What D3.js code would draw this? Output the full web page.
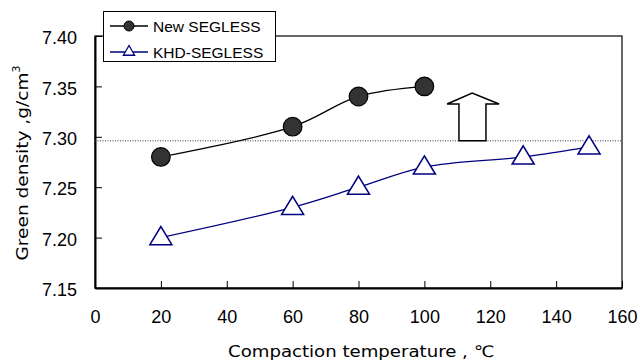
<!DOCTYPE html>
<html><head><meta charset="utf-8">
<script src="https://cdn.jsdelivr.net/npm/d3@7"></script>
<style>body{margin:0;background:#fff}svg{display:block}text{font-family:"Liberation Sans",Arial,sans-serif;fill:#000}</style>
</head><body><svg id="c" width="640" height="363"></svg>
<script>
const newTemps = [20, 60, 80, 100];
const newDensity = [7.28, 7.31, 7.34, 7.35];
const khdTemps = [20, 60, 80, 100, 130, 150];
const khdDensity = [7.20, 7.23, 7.25, 7.27, 7.28, 7.29];
const xTicks = [0, 20, 40, 60, 80, 100, 120, 140, 160];
const yTicks = [7.15, 7.20, 7.25, 7.30, 7.35, 7.40];
const refLine = 7.296;
const seriesNames = ["New SEGLESS", "KHD-SEGLESS"];

const svg = d3.select("#c");
const m = {l:95, r:622, t:36, b:288};
const x = d3.scaleLinear().domain([0,160]).range([m.l, m.r]);
const y = d3.scaleLinear().domain([7.15,7.40]).range([m.b, m.t]);

// frame
svg.append("rect").attr("x",m.l).attr("y",m.t).attr("width",m.r-m.l).attr("height",m.b-m.t)
  .attr("fill","none").attr("stroke","#000").attr("stroke-width",1.2);
// axes
const xa = svg.append("g").attr("transform",`translate(0,${m.b})`)
  .call(d3.axisBottom(x).tickValues(xTicks).tickSizeInner(-7).tickSizeOuter(0).tickPadding(18).tickFormat(d3.format("d")));
const ya = svg.append("g").attr("transform",`translate(${m.l},0)`)
  .call(d3.axisLeft(y).tickValues(yTicks).tickSizeInner(-7).tickSizeOuter(0).tickPadding(18).tickFormat(d3.format(".2f")));
[xa,ya].forEach(a=>{a.select(".domain").attr("stroke","#000").attr("stroke-width",2);
  a.selectAll(".tick line").attr("stroke","#000");
  a.selectAll(".tick text").style("font-size","18px").style("font-family","'Liberation Sans',Arial,sans-serif");});
ya.selectAll(".tick text").attr("dy","0.7em").attr("x",-18);
ya.selectAll(".tick text").attr("transform","translate(0,-5)");
xa.selectAll(".tick text").attr("dy","0.71em").attr("y",22);

// reference dotted line
svg.append("line").attr("x1",m.l).attr("x2",m.r).attr("y1",y(refLine)).attr("y2",y(refLine))
  .attr("stroke","#333").attr("stroke-dasharray","1,1.5").attr("stroke-width",1);

// arrow (data coords)
const arrowPts = [[110.5,refLine],[118.7,refLine],[118.7,7.3325],[122.7,7.3325],[114.5,7.3435],[106.9,7.3325],[110.5,7.3325]];
svg.append("path").attr("d", d3.line().x(d=>x(d[0])).y(d=>y(d[1])).curve(d3.curveLinearClosed)(arrowPts))
  .attr("fill","#fff").attr("stroke","#000").attr("stroke-width",1.5);

const line = d3.line().x(d=>x(d[0])).y(d=>y(d[1])).curve(d3.curveCatmullRom.alpha(0.5));
const khd = khdTemps.map((t,i)=>[t,khdDensity[i]]);
const nw = newTemps.map((t,i)=>[t,newDensity[i]]);
svg.append("path").attr("d",line(khd)).attr("fill","none").attr("stroke","#000080").attr("stroke-width",1.3);
svg.append("path").attr("d",line(nw)).attr("fill","none").attr("stroke","#000").attr("stroke-width",1.3);

svg.selectAll(".tri").data(khd).enter().append("path")
  .attr("d", d3.symbol().type(d3.symbolTriangle).size(190)())
  .attr("transform",d=>`translate(${x(d[0])},${y(d[1])+1}) scale(1.05,1)`)
  .attr("fill","#fff").attr("stroke","#000080").attr("stroke-width",1.5);
svg.selectAll(".cir").data(nw).enter().append("circle")
  .attr("cx",d=>x(d[0])).attr("cy",d=>y(d[1])).attr("r",9.3)
  .attr("fill","#333").attr("stroke","#000").attr("stroke-width",1.2);

// legend
const lg = svg.append("g");
lg.append("rect").attr("x",103.5).attr("y",11.5).attr("width",172).attr("height",50)
  .attr("fill","#fff").attr("stroke","#000").attr("stroke-width",1);
const rows = [{name:seriesNames[0],c:"#000",y:26},{name:seriesNames[1],c:"#000080",y:52}];
rows.forEach((r,i)=>{
  lg.append("line").attr("x1",110).attr("x2",148).attr("y1",r.y).attr("y2",r.y).attr("stroke",r.c).attr("stroke-width",1.3);
  if(i===0) lg.append("circle").attr("cx",129).attr("cy",r.y).attr("r",5).attr("fill","#333").attr("stroke","#000");
  else lg.append("path").attr("d",d3.symbol().type(d3.symbolTriangle).size(55)()).attr("transform",`translate(129,${r.y})`)
    .attr("fill","#fff").attr("stroke","#000080").attr("stroke-width",1.3);
  lg.append("text").attr("x",153).attr("y",r.y+5.5).style("font-size","15.5px").text(r.name);
});

// axis titles
svg.append("text").attr("x",361).attr("y",357).attr("text-anchor","middle")
  .style("font-size","16px").style("font-family","'DejaVu Sans',sans-serif")
  .attr("textLength",266).attr("lengthAdjust","spacingAndGlyphs").text("Compaction temperature , ℃");
const yt = svg.append("text").attr("transform","translate(28,163) rotate(-90)").attr("text-anchor","middle")
  .style("font-size","16px").style("font-family","'DejaVu Sans',sans-serif");
yt.append("tspan").attr("textLength",188).attr("lengthAdjust","spacingAndGlyphs").text("Green  density ,g/cm");
yt.append("tspan").attr("dy",-8).style("font-size","11px").text("3");
</script></body></html>
